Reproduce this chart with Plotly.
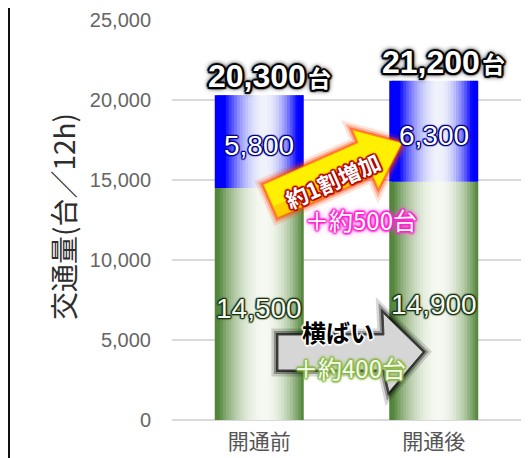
import plotly.graph_objects as go

# ---------------- data ----------------
categories = ["開通前", "開通後"]
lower_values = [14500, 14900]      # green segment
upper_values = [5800, 6300]        # blue segment
y_tick_values = [0, 5000, 10000, 15000, 20000, 25000]
upper_change_label = "約1割増加"
lower_change_label = "横ばい"
y_title = "交通量(台／12h)"

totals = [a + b for a, b in zip(lower_values, upper_values)]
upper_diff = upper_values[1] - upper_values[0]
lower_diff = lower_values[1] - lower_values[0]

# ---------------- layout geometry ----------------
# the page body adds an 8px margin, so window pixel = figure pixel + OFF
OFF = 8
W, H = 531, 458
PLOT_L, PLOT_R, PLOT_T, PLOT_B = 172, 521, 20, 420      # window pixels
L = PLOT_L - OFF
T = PLOT_T - OFF
R = W - (PLOT_R - OFF)
B = H - (PLOT_B - OFF)
PW, PH = PLOT_R - PLOT_L, PLOT_B - PLOT_T


def px(x, y):
    """window pixel position -> paper coords"""
    return (x - PLOT_L) / PW, (PLOT_B - y) / PH


def path(points):
    pts = [px(x, y) for x, y in points]
    return "M " + " L ".join(f"{a:.4f},{b:.4f}" for a, b in pts) + " Z"


def mix(c1, c2, w):
    a = [int(c1[i:i + 2], 16) for i in (1, 3, 5)]
    b = [int(c2[i:i + 2], 16) for i in (1, 3, 5)]
    return "rgb({},{},{})".format(*[round(a[k] * (1 - w) + b[k] * w) for k in range(3)])


def profile(t, c=0.56, hl=0.56, hr=0.47):
    h = hl if t < c else hr
    return max(0.0, 1 - ((t - c) / h) ** 2)


fig = go.Figure()

BW = 0.51
N = 32
segments = [
    (lower_values, [0, 0], "#52853a", "#f6f9f1", 0.52, 0.43),
    (upper_values, lower_values, "#0000ff", "#f0f2fb", 0.45, 0.37),
]
for vals, bases, edge, center, hl, hr in segments:
    for i in range(N):
        t = (i + 0.5) / N
        w = BW / N
        fig.add_trace(go.Bar(
            x=categories, y=vals, base=bases,
            width=w * (1.6 if i < N - 1 else 1.0),
            offset=-BW / 2 + i * w,
            marker=dict(color=mix(edge, center, profile(t, hl=hl, hr=hr)), line=dict(width=0)),
            hoverinfo="skip", showlegend=False,
        ))

# ---------------- arrows ----------------
shapes = []

# grey "flat" arrow
grey_pts = [(278, 335), (384, 335), (383, 313), (423, 352), (389, 392), (384, 370), (278, 370)]
for lw, op in [(13, 0.15), (8, 0.3), (4, 0.6)]:
    shapes.append(dict(type="path", path=path(grey_pts), xref="paper", yref="paper",
                       fillcolor="#000", line=dict(color="#000", width=lw), opacity=op, layer="above"))
shapes.append(dict(type="path", path=path(grey_pts), xref="paper", yref="paper",
                   fillcolor="#d6d6d6", line=dict(color="#444", width=1), layer="above"))

# yellow rising arrow
c0 = (270.5, 201.0)
tip = (402.0, 143.0)
dx, dy = tip[0] - c0[0], tip[1] - c0[1]
ln = (dx * dx + dy * dy) ** 0.5
u = (dx / ln, dy / ln)
n = (-u[1], u[0])
bh, hh, hl_ = 18, 32, 40
hb = (tip[0] - hl_ * u[0], tip[1] - hl_ * u[1])


def P(base, s):
    return (base[0] + s * n[0], base[1] + s * n[1])


yellow_pts = [P(c0, -bh), P(hb, -bh), P(hb, -hh), tip, P(hb, hh), P(hb, bh), P(c0, bh)]
for lw, op in [(13, 0.15), (8, 0.3), (4, 0.55)]:
    shapes.append(dict(type="path", path=path(yellow_pts), xref="paper", yref="paper",
                       fillcolor="#ff4000", line=dict(color="#ff4000", width=lw), opacity=op, layer="above"))
shapes.append(dict(type="path", path=path(yellow_pts), xref="paper", yref="paper",
                   fillcolor="#ffef00", line=dict(color="#ff9a00", width=1), layer="above"))
band = [P(c0, 6), P(hb, 6), P(hb, bh), P(c0, bh)]
shapes.append(dict(type="path", path=path(band), xref="paper", yref="paper",
                   fillcolor="#ffb000", line=dict(width=0), opacity=0.5, layer="above"))

# left frame decorations
x0, _ = px(8.5, 0)
shapes.append(dict(type="line", xref="paper", yref="paper", x0=x0, x1=x0,
                   y0=px(0, 470)[1], y1=px(0, 0)[1], line=dict(color="#111", width=3)))
bx0, by0 = px(0.5, 0)
bx1, by1 = px(4.5, 103)
shapes.append(dict(type="rect", xref="paper", yref="paper", x0=bx0, x1=bx1, y0=by1, y1=by0,
                   line=dict(color="#c8c8c8", width=1)))

# ---------------- annotations ----------------
JP = "Liberation Sans, Noto Sans CJK JP"
annotations = []


def outline(color, d=1.5, blur=1, extra=""):
    offs = [(d, 0), (-d, 0), (0, d), (0, -d), (d * .7, d * .7), (-d * .7, d * .7),
            (d * .7, -d * .7), (-d * .7, -d * .7)]
    s = ", ".join(f"{a:.1f}px {b:.1f}px {blur}px {color}" for a, b in offs)
    return s + (", " + extra if extra else "")


for i, cat in enumerate(categories):
    annotations.append(dict(
        x=cat, y=totals[i], xref="x", yref="y", yanchor="bottom", yshift=-1, xshift=10,
        text=f"{totals[i]:,}<span style='font-size:8px'> </span><span style='font-size:23px'>台</span>",
        showarrow=False,
        font=dict(family=JP, size=32, color="#ffffff", weight="bold",
                  shadow=outline("#000", 2.2, 1, "0 0 5px #000, 0 0 6px #000"))))
    annotations.append(dict(
        x=cat, y=lower_values[i] + upper_values[i] / 2, xref="x", yref="y", yshift=-4,
        text=f"{upper_values[i]:,}", showarrow=False,
        font=dict(family=JP, size=28, color="#ffffff",
                  shadow=outline("#000080", 1.2, 1))))
    annotations.append(dict(
        x=cat, y=lower_values[i] / 2, xref="x", yref="y", yshift=-4,
        text=f"{lower_values[i]:,}", showarrow=False,
        font=dict(family=JP, size=28, color="#f6f6f2",
                  shadow=outline("#1c3610", 1.2, 1, "0 0 3px #1c3610"))))

ax_, ay_ = px(332, 180)
annotations.append(dict(x=ax_, y=ay_, xref="paper", yref="paper", text=upper_change_label,
                        showarrow=False, textangle=-24,
                        font=dict(family="Noto Sans CJK JP", size=22, color="#ffffff", weight="bold",
                                  shadow=outline("#b00000", 1.6, 1, "0 0 3px #a00000"))))
ax_, ay_ = px(361, 219)
annotations.append(dict(x=ax_, y=ay_, xref="paper", yref="paper", text=f"＋約{upper_diff}台",
                        showarrow=False,
                        font=dict(family="Noto Sans CJK JP", size=24, color="#ffffff",
                                  shadow=outline("#ff20d0", 1.2, 2, "0 0 5px #ff40d8, 0 0 7px #ff70e0"))))
ax_, ay_ = px(338, 351)
annotations.append(dict(x=ax_, y=ay_, xref="paper", yref="paper", text=lower_change_label,
                        showarrow=False,
                        font=dict(family="Noto Sans CJK JP", size=24, color="#000000", weight="bold",
                                  shadow=outline("#ffffff", 1.6, 1))))
ax_, ay_ = px(350, 387)
annotations.append(dict(x=ax_, y=ay_, xref="paper", yref="paper", text=f"＋約{lower_diff}台",
                        showarrow=False,
                        font=dict(family="Noto Sans CJK JP", size=24, color="#f8fdf0",
                                  shadow=outline("#8ab848", 1.0, 2, "0 0 4px #8ab848"))))
# y-axis title
ax_, ay_ = px(41, 217)
annotations.append(dict(x=ax_, y=ay_, xref="paper", yref="paper", text=y_title,
                        showarrow=False, textangle=-90,
                        font=dict(family="Noto Sans CJK JP", size=28, color="#2e2e2e")))

fig.update_layout(
    width=W, height=H,
    margin=dict(l=L, r=R, t=T, b=B, pad=0, autoexpand=False),
    barmode="overlay",
    paper_bgcolor="#ffffff", plot_bgcolor="#ffffff",
    showlegend=False,
    shapes=shapes, annotations=annotations,
    xaxis=dict(type="category", showgrid=False, showline=False, zeroline=False,
               automargin=False,
               tickfont=dict(family="Noto Sans CJK JP", size=21, color="#555555"),
               ticks="", ticklabelstandoff=7, range=[-0.5, 1.5]),
    yaxis=dict(range=[0, 25000], tickvals=y_tick_values, tickformat=",",
               automargin=False,
               showgrid=True, gridcolor="#d9d9d9", gridwidth=1.5,
               zeroline=True, zerolinecolor="#d9d9d9", zerolinewidth=1.5,
               showline=False, ticks="", ticklabelstandoff=20,
               tickfont=dict(family="Liberation Sans", size=20, color="#666666")),
)

fig.write_html("out.html")
